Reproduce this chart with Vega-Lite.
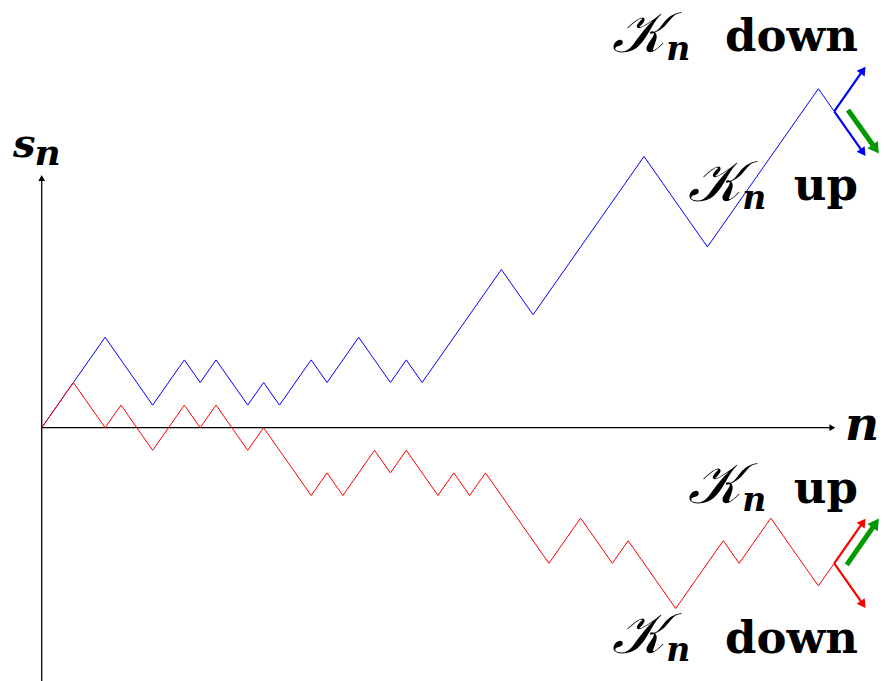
{
  "$schema": "https://vega.github.io/schema/vega-lite/v6.json",
  "width": 884,
  "height": 681,
  "padding": 0,
  "autosize": {"type": "none"},
  "background": "white",
  "config": {"view": {"stroke": null}},
  "datasets": {
    "walks": [
      {"series": "blue", "x": 0, "y": 0}, {"series": "blue", "x": 2, "y": 2}, {"series": "blue", "x": 4, "y": 4},
      {"series": "blue", "x": 7, "y": 1}, {"series": "blue", "x": 9, "y": 3}, {"series": "blue", "x": 10, "y": 2},
      {"series": "blue", "x": 11, "y": 3}, {"series": "blue", "x": 13, "y": 1}, {"series": "blue", "x": 14, "y": 2},
      {"series": "blue", "x": 15, "y": 1}, {"series": "blue", "x": 17, "y": 3}, {"series": "blue", "x": 18, "y": 2},
      {"series": "blue", "x": 20, "y": 4}, {"series": "blue", "x": 22, "y": 2}, {"series": "blue", "x": 23, "y": 3},
      {"series": "blue", "x": 24, "y": 2}, {"series": "blue", "x": 29, "y": 7}, {"series": "blue", "x": 31, "y": 5},
      {"series": "blue", "x": 38, "y": 12}, {"series": "blue", "x": 42, "y": 8}, {"series": "blue", "x": 49, "y": 15},
      {"series": "blue", "x": 50, "y": 14},
      {"series": "red", "x": 0, "y": 0}, {"series": "red", "x": 2, "y": 2}, {"series": "red", "x": 4, "y": 0},
      {"series": "red", "x": 5, "y": 1}, {"series": "red", "x": 7, "y": -1}, {"series": "red", "x": 9, "y": 1},
      {"series": "red", "x": 10, "y": 0}, {"series": "red", "x": 11, "y": 1}, {"series": "red", "x": 13, "y": -1},
      {"series": "red", "x": 14, "y": 0}, {"series": "red", "x": 17, "y": -3}, {"series": "red", "x": 18, "y": -2},
      {"series": "red", "x": 19, "y": -3}, {"series": "red", "x": 21, "y": -1}, {"series": "red", "x": 22, "y": -2},
      {"series": "red", "x": 23, "y": -1}, {"series": "red", "x": 25, "y": -3}, {"series": "red", "x": 26, "y": -2},
      {"series": "red", "x": 27, "y": -3}, {"series": "red", "x": 28, "y": -2}, {"series": "red", "x": 32, "y": -6},
      {"series": "red", "x": 34, "y": -4}, {"series": "red", "x": 36, "y": -6}, {"series": "red", "x": 37, "y": -5},
      {"series": "red", "x": 40, "y": -8}, {"series": "red", "x": 43, "y": -5}, {"series": "red", "x": 44, "y": -6},
      {"series": "red", "x": 46, "y": -4}, {"series": "red", "x": 49, "y": -7}, {"series": "red", "x": 50, "y": -6}
    ],
    "axes": [
      {"x": 0, "y": -11.5, "x2": 0, "y2": 11.05},
      {"x": 0, "y": 0, "x2": 49.88, "y2": 0}
    ],
    "axisHeads": [
      {"x": 0, "y": 11.05, "angle": 0},
      {"x": 49.88, "y": 0, "angle": 90}
    ],
    "arrows": [
      {"kind": "blue", "x": 50, "y": 14, "x2": 51.82, "y2": 15.82},
      {"kind": "blue", "x": 50, "y": 14, "x2": 51.82, "y2": 12.18},
      {"kind": "red", "x": 50, "y": -6, "x2": 51.82, "y2": -4.18},
      {"kind": "red", "x": 50, "y": -6, "x2": 51.82, "y2": -7.82}
    ],
    "arrowHeads": [
      {"kind": "blue", "x": 51.82, "y": 15.82, "angle": 35},
      {"kind": "blue", "x": 51.82, "y": 12.18, "angle": 145},
      {"kind": "red", "x": 51.82, "y": -4.18, "angle": 35},
      {"kind": "red", "x": 51.82, "y": -7.82, "angle": 145}
    ],
    "green": [
      {"x": 50.87, "y": 14.06, "x2": 52.62, "y2": 12.33},
      {"x": 50.79, "y": -6.07, "x2": 52.62, "y2": -4.22}
    ],
    "greenHeads": [
      {"x": 52.62, "y": 12.33, "angle": 145},
      {"x": 52.62, "y": -4.22, "angle": 35}
    ],
    "scriptK": [
      {"x": 36.0, "y": 16.62, "text": "𝒦"},
      {"x": 40.8, "y": 10.03, "text": "𝒦"},
      {"x": 40.8, "y": -3.33, "text": "𝒦"},
      {"x": 36.0, "y": -9.97, "text": "𝒦"}
    ],
    "subN": [
      {"x": 39.4, "y": 16.27, "text": "n"},
      {"x": 44.2, "y": 9.67, "text": "n"},
      {"x": 44.2, "y": -3.69, "text": "n"},
      {"x": 39.4, "y": -10.32, "text": "n"}
    ],
    "words": [
      {"x": 51.5, "y": 16.67, "text": "down"},
      {"x": 51.5, "y": 10.08, "text": "up"},
      {"x": 51.5, "y": -3.33, "text": "up"},
      {"x": 51.5, "y": -9.97, "text": "down"}
    ],
    "yLabel": [
      {"x": -1.81, "y": 11.98, "text": "s"}
    ],
    "yLabelSub": [
      {"x": -0.45, "y": 11.62, "text": "n"}
    ],
    "xLabel": [
      {"x": 50.68, "y": -0.54, "text": "n"}
    ]
  },
  "encoding": {
    "x": {"field": "x", "type": "quantitative", "scale": {"domain": [-2.631, 53.14], "nice": false, "zero": false}, "axis": null},
    "y": {"field": "y", "type": "quantitative", "scale": {"domain": [-11.208, 18.925], "nice": false, "zero": false}, "axis": null}
  },
  "layer": [
    {
      "data": {"name": "axes"},
      "mark": {"type": "rule", "color": "black", "strokeWidth": 1.3},
      "encoding": {"x2": {"field": "x2"}, "y2": {"field": "y2"}}
    },
    {
      "data": {"name": "axisHeads"},
      "mark": {"type": "point", "shape": "triangle-up", "filled": true, "color": "black", "size": 45, "opacity": 1},
      "encoding": {"angle": {"field": "angle", "type": "quantitative", "scale": null}}
    },
    {
      "data": {"name": "walks"},
      "mark": {"type": "line", "strokeWidth": 1, "interpolate": "linear"},
      "encoding": {
        "color": {"field": "series", "type": "nominal", "scale": {"domain": ["blue", "red"], "range": ["#0000ff", "#ff0000"]}, "legend": null}
      }
    },
    {
      "data": {"name": "arrows"},
      "mark": {"type": "rule", "strokeWidth": 2.2},
      "encoding": {
        "x2": {"field": "x2"}, "y2": {"field": "y2"},
        "color": {"field": "kind", "type": "nominal", "scale": {"domain": ["blue", "red"], "range": ["#0000ff", "#ff0000"]}, "legend": null}
      }
    },
    {
      "data": {"name": "arrowHeads"},
      "mark": {"type": "point", "shape": "triangle-up", "filled": true, "size": 95, "opacity": 1},
      "encoding": {
        "angle": {"field": "angle", "type": "quantitative", "scale": null},
        "color": {"field": "kind", "type": "nominal", "scale": {"domain": ["blue", "red"], "range": ["#0000ff", "#ff0000"]}, "legend": null}
      }
    },
    {
      "data": {"name": "green"},
      "mark": {"type": "rule", "strokeWidth": 5, "color": "#009a00"},
      "encoding": {"x2": {"field": "x2"}, "y2": {"field": "y2"}}
    },
    {
      "data": {"name": "greenHeads"},
      "mark": {"type": "point", "shape": "triangle-up", "filled": true, "size": 160, "color": "#009a00", "opacity": 1},
      "encoding": {"angle": {"field": "angle", "type": "quantitative", "scale": null}}
    },
    {
      "data": {"name": "scriptK"},
      "mark": {"type": "text", "align": "left", "baseline": "alphabetic", "font": "DejaVu Serif", "fontStyle": "italic", "fontSize": 57, "color": "black"},
      "encoding": {"text": {"field": "text"}}
    },
    {
      "data": {"name": "subN"},
      "mark": {"type": "text", "align": "left", "baseline": "alphabetic", "font": "DejaVu Serif", "fontStyle": "italic", "fontWeight": "bold", "fontSize": 33, "color": "black"},
      "encoding": {"text": {"field": "text"}}
    },
    {
      "data": {"name": "words"},
      "mark": {"type": "text", "align": "right", "baseline": "alphabetic", "font": "DejaVu Serif", "fontWeight": "bold", "fontSize": 45, "color": "black"},
      "encoding": {"text": {"field": "text"}}
    },
    {
      "data": {"name": "yLabel"},
      "mark": {"type": "text", "align": "left", "baseline": "alphabetic", "font": "DejaVu Serif", "fontStyle": "italic", "fontWeight": "bold", "fontSize": 40, "color": "black"},
      "encoding": {"text": {"field": "text"}}
    },
    {
      "data": {"name": "yLabelSub"},
      "mark": {"type": "text", "align": "left", "baseline": "alphabetic", "font": "DejaVu Serif", "fontStyle": "italic", "fontWeight": "bold", "fontSize": 36, "color": "black"},
      "encoding": {"text": {"field": "text"}}
    },
    {
      "data": {"name": "xLabel"},
      "mark": {"type": "text", "align": "left", "baseline": "alphabetic", "font": "DejaVu Serif", "fontStyle": "italic", "fontWeight": "bold", "fontSize": 47, "color": "black"},
      "encoding": {"text": {"field": "text"}}
    }
  ]
}
